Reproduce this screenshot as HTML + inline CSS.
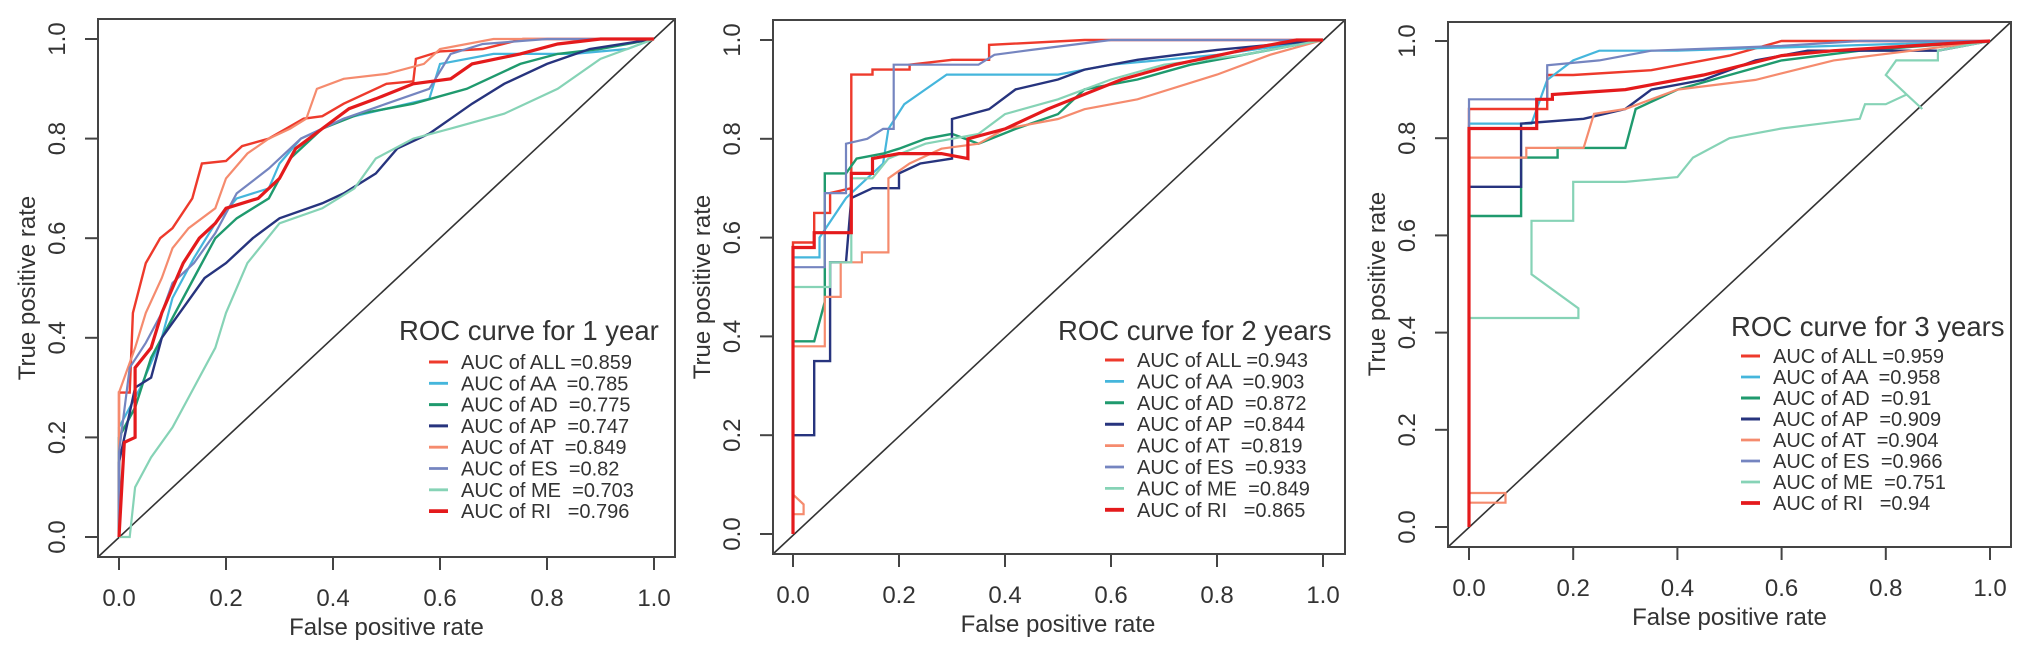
<!DOCTYPE html>
<html><head><meta charset="utf-8"><style>
html,body{margin:0;padding:0;background:#fff;}
svg{display:block;font-family:"Liberation Sans",Arial,sans-serif;}
</style></head><body>
<svg id="chart" width="2031" height="659" viewBox="0 0 2031 659" xmlns="http://www.w3.org/2000/svg"></svg>
<script>
const seriesNames = ["ALL","AA","AD","AP","AT","ES","ME","RI"];
const seriesColors = ["#ee3a2c","#45b6dc","#1f9a6e","#27347e","#f58b6e","#7585c0","#86d3b6","#e41a1c"];
const seriesWidths = [2.4,2.2,2.4,2.4,2.2,2.2,2.2,3.2];
const xTicks = [0,0.2,0.4,0.6,0.8,1.0];
const xTickLabels = ["0.0","0.2","0.4","0.6","0.8","1.0"];
const yTicks = [0,0.2,0.4,0.6,0.8,1.0];
const yTickLabels = ["0.0","0.2","0.4","0.6","0.8","1.0"];
const panelTitles = ["ROC curve for 1 year","ROC curve for 2 years","ROC curve for 3 years"];
const aucYear1 = ["0.859","0.785","0.775","0.747","0.849","0.82","0.703","0.796"];
const aucYear2 = ["0.943","0.903","0.872","0.844","0.819","0.933","0.849","0.865"];
const aucYear3 = ["0.959","0.958","0.91","0.909","0.904","0.966","0.751","0.94"];

// ROC vertices [fpr, tpr] per series, year 1
const y1ALL = [[0,0],[0,0.29],[0.02,0.29],[0.026,0.45],[0.05,0.55],[0.077,0.6],[0.1,0.62],[0.137,0.68],[0.155,0.75],[0.2,0.755],[0.23,0.785],[0.28,0.8],[0.345,0.84],[0.38,0.845],[0.42,0.87],[0.5,0.91],[0.55,0.915],[0.555,0.96],[0.6,0.975],[0.68,0.98],[0.755,1.0],[1,1]];
const y1AA = [[0,0],[0,0.22],[0.04,0.3],[0.08,0.4],[0.1,0.48],[0.14,0.56],[0.18,0.63],[0.22,0.68],[0.28,0.7],[0.3,0.75],[0.34,0.8],[0.42,0.84],[0.5,0.86],[0.58,0.88],[0.6,0.95],[0.7,0.97],[0.85,0.97],[0.95,0.98],[1,1]];
const y1AD = [[0,0],[0,0.2],[0.03,0.26],[0.06,0.36],[0.1,0.44],[0.14,0.52],[0.18,0.6],[0.22,0.64],[0.28,0.68],[0.32,0.76],[0.38,0.82],[0.45,0.85],[0.55,0.87],[0.65,0.9],[0.75,0.95],[0.82,0.97],[0.9,0.98],[1,1]];
const y1AP = [[0,0],[0,0.15],[0.03,0.3],[0.06,0.32],[0.08,0.4],[0.12,0.46],[0.16,0.52],[0.2,0.55],[0.25,0.6],[0.3,0.64],[0.38,0.67],[0.42,0.69],[0.48,0.73],[0.52,0.78],[0.58,0.81],[0.62,0.84],[0.66,0.87],[0.72,0.91],[0.8,0.95],[0.88,0.98],[1,1]];
const y1AT = [[0,0],[0,0.29],[0.03,0.38],[0.05,0.45],[0.08,0.52],[0.1,0.58],[0.13,0.62],[0.18,0.66],[0.2,0.72],[0.24,0.77],[0.28,0.8],[0.32,0.82],[0.35,0.84],[0.37,0.9],[0.42,0.92],[0.5,0.93],[0.57,0.95],[0.6,0.98],[0.7,1.0],[1,1]];
const y1ES = [[0,0],[0,0.17],[0.02,0.34],[0.05,0.39],[0.08,0.45],[0.1,0.51],[0.14,0.55],[0.18,0.61],[0.22,0.69],[0.28,0.74],[0.34,0.8],[0.42,0.84],[0.5,0.87],[0.58,0.9],[0.62,0.97],[0.68,0.99],[0.8,1.0],[1,1]];
const y1ME = [[0,0],[0.02,0],[0.03,0.1],[0.06,0.16],[0.1,0.22],[0.14,0.3],[0.18,0.38],[0.2,0.45],[0.24,0.55],[0.3,0.63],[0.38,0.66],[0.44,0.7],[0.48,0.76],[0.55,0.8],[0.62,0.82],[0.72,0.85],[0.82,0.9],[0.9,0.96],[0.95,0.98],[1,1]];
const y1RI = [[0,0],[0.01,0.19],[0.03,0.2],[0.03,0.34],[0.06,0.38],[0.08,0.45],[0.1,0.5],[0.12,0.55],[0.15,0.6],[0.18,0.63],[0.2,0.66],[0.26,0.68],[0.3,0.72],[0.33,0.78],[0.38,0.82],[0.43,0.86],[0.48,0.88],[0.55,0.91],[0.62,0.92],[0.66,0.95],[0.75,0.97],[0.82,0.99],[0.9,1.0],[1,1]];
// year 2
const y2ALL = [[0,0],[0,0.59],[0.04,0.59],[0.04,0.65],[0.07,0.65],[0.07,0.69],[0.11,0.7],[0.11,0.93],[0.15,0.93],[0.15,0.94],[0.22,0.94],[0.22,0.95],[0.3,0.96],[0.37,0.96],[0.37,0.99],[0.55,1.0],[1,1]];
const y2AA = [[0,0],[0,0.56],[0.05,0.56],[0.05,0.6],[0.1,0.68],[0.12,0.7],[0.17,0.75],[0.18,0.82],[0.21,0.87],[0.25,0.9],[0.29,0.93],[0.5,0.93],[0.6,0.95],[0.8,0.97],[1,1]];
const y2AD = [[0,0],[0,0.39],[0.04,0.39],[0.06,0.47],[0.06,0.73],[0.1,0.73],[0.12,0.76],[0.17,0.77],[0.2,0.78],[0.25,0.8],[0.3,0.81],[0.35,0.79],[0.42,0.82],[0.5,0.85],[0.55,0.9],[0.65,0.92],[0.75,0.95],[0.9,0.98],[1,1]];
const y2AP = [[0,0],[0,0.2],[0.04,0.2],[0.04,0.35],[0.07,0.35],[0.07,0.55],[0.1,0.55],[0.11,0.68],[0.15,0.7],[0.2,0.7],[0.2,0.73],[0.24,0.75],[0.3,0.76],[0.3,0.84],[0.37,0.86],[0.42,0.9],[0.5,0.92],[0.55,0.94],[0.65,0.96],[0.8,0.98],[1,1]];
const y2AT = [[0,0],[0,0.08],[0.02,0.06],[0.02,0.04],[0,0.04],[0,0.38],[0.06,0.38],[0.06,0.48],[0.09,0.48],[0.09,0.55],[0.13,0.55],[0.13,0.57],[0.18,0.57],[0.18,0.72],[0.22,0.75],[0.28,0.78],[0.35,0.79],[0.4,0.82],[0.5,0.84],[0.55,0.86],[0.65,0.88],[0.8,0.93],[0.9,0.97],[1,1]];
const y2ES = [[0,0],[0,0.54],[0.06,0.54],[0.06,0.69],[0.1,0.69],[0.1,0.79],[0.14,0.8],[0.17,0.82],[0.19,0.82],[0.19,0.95],[0.35,0.95],[0.38,0.97],[0.45,0.98],[0.6,1.0],[1,1]];
const y2ME = [[0,0],[0,0.5],[0.07,0.5],[0.07,0.55],[0.11,0.55],[0.11,0.72],[0.15,0.72],[0.18,0.76],[0.25,0.79],[0.3,0.8],[0.35,0.81],[0.4,0.85],[0.5,0.88],[0.6,0.92],[0.7,0.95],[0.85,0.97],[1,1]];
const y2RI = [[0,0],[0,0.58],[0.04,0.58],[0.04,0.61],[0.11,0.61],[0.11,0.73],[0.15,0.73],[0.15,0.76],[0.2,0.77],[0.28,0.77],[0.33,0.76],[0.33,0.8],[0.4,0.82],[0.48,0.86],[0.55,0.89],[0.62,0.92],[0.72,0.95],[0.85,0.98],[0.95,1.0],[1,1]];
// year 3
const y3ALL = [[0,0],[0,0.86],[0.15,0.86],[0.15,0.93],[0.2,0.93],[0.35,0.94],[0.5,0.97],[0.6,1.0],[1,1]];
const y3AA = [[0,0],[0,0.83],[0.12,0.83],[0.13,0.86],[0.15,0.92],[0.2,0.96],[0.25,0.98],[0.4,0.98],[0.7,0.99],[1,1]];
const y3AD = [[0,0],[0,0.64],[0.1,0.64],[0.1,0.76],[0.17,0.76],[0.17,0.78],[0.3,0.78],[0.32,0.86],[0.4,0.9],[0.5,0.93],[0.6,0.96],[0.75,0.98],[1,1]];
const y3AP = [[0,0],[0,0.7],[0.1,0.7],[0.1,0.83],[0.22,0.84],[0.3,0.86],[0.35,0.9],[0.45,0.92],[0.55,0.96],[0.65,0.98],[0.9,0.98],[1,1]];
const y3AT = [[0,0],[0,0.05],[0.07,0.05],[0.07,0.07],[0,0.07],[0,0.76],[0.11,0.76],[0.11,0.78],[0.22,0.78],[0.24,0.85],[0.3,0.86],[0.4,0.9],[0.55,0.92],[0.7,0.96],[0.85,0.98],[1,1]];
const y3ES = [[0,0],[0,0.88],[0.15,0.88],[0.15,0.95],[0.25,0.96],[0.35,0.98],[0.6,0.99],[0.75,1.0],[1,1]];
const y3ME = [[0,0],[0,0.43],[0.21,0.43],[0.21,0.45],[0.12,0.52],[0.12,0.63],[0.2,0.63],[0.2,0.71],[0.3,0.71],[0.4,0.72],[0.43,0.76],[0.5,0.8],[0.6,0.82],[0.75,0.84],[0.76,0.87],[0.8,0.87],[0.84,0.89],[0.87,0.86],[0.83,0.9],[0.8,0.93],[0.82,0.96],[0.9,0.96],[0.9,0.98],[1,1]];
const y3RI = [[0,0],[0,0.82],[0.13,0.82],[0.13,0.88],[0.16,0.88],[0.16,0.89],[0.3,0.9],[0.45,0.93],[0.6,0.97],[0.7,0.98],[1,1]];

const panelSeries = [
  [y1ALL,y1AA,y1AD,y1AP,y1AT,y1ES,y1ME,y1RI],
  [y2ALL,y2AA,y2AD,y2AP,y2AT,y2ES,y2ME,y2RI],
  [y3ALL,y3AA,y3AD,y3AP,y3AT,y3ES,y3ME,y3RI]
];
const panelAucs = [aucYear1, aucYear2, aucYear3];

const panels = [
  {x0:119,x1:654,y0:537,y1:39, bx0:98,bx1:675,by0:19,by1:557, leg:{tx:399,ty:340,lx:429,ly:362,dy:21.3}},
  {x0:793,x1:1323,y0:534,y1:40, bx0:773,bx1:1345,by0:20,by1:554, leg:{tx:1058,ty:340,lx:1105,ly:360,dy:21.4}},
  {x0:1469,x1:1990,y0:527,y1:41, bx0:1448,bx1:2011,by0:22,by1:547, leg:{tx:1731,ty:336,lx:1741,ly:356,dy:21}}
];

const NS="http://www.w3.org/2000/svg";
const svg=document.getElementById('chart');
function mk(tag,attrs,parent){const e=document.createElementNS(NS,tag);for(const k in attrs)e.setAttribute(k,attrs[k]);(parent||svg).appendChild(e);return e;}

panels.forEach((p,pi)=>{
  const g=mk('g',{});
  
  
  const sx=v=>p.x0+(p.x1-p.x0)*v;
  const sy=v=>p.y0+(p.y1-p.y0)*v;
  const diag=mk('line',{x1:p.bx0,y1:p.by1,x2:p.bx1,y2:p.by0,stroke:'#333','stroke-width':1.6},g);
  
  
  panelSeries[pi].forEach((pts,si)=>{
    const d=pts.map((q,i)=>(i?'L':'M')+sx(q[0]).toFixed(1)+','+sy(q[1]).toFixed(1)).join(' ');
    const path=mk('path',{d:d,fill:'none',stroke:seriesColors[si],'stroke-width':seriesWidths[si],'stroke-linejoin':'miter'},g);
    
    
  });
  const box=mk('rect',{x:p.bx0,y:p.by0,width:p.bx1-p.bx0,height:p.by1-p.by0,fill:'none',stroke:'#444','stroke-width':2},g);
  
  
  xTicks.forEach((t,i)=>{
    const x=sx(t);
    const tk=mk('line',{x1:x,y1:p.by1,x2:x,y2:p.by1+13,stroke:'#444','stroke-width':2},g);
    
    
    const tl=mk('text',{x:x,y:p.by1+49,'text-anchor':'middle','font-size':24,fill:'#333'},g);
    tl.textContent=xTickLabels[i];
    
    
  });
  yTicks.forEach((t,i)=>{
    const y=sy(t);
    const tk=mk('line',{x1:p.bx0-13,y1:y,x2:p.bx0,y2:y,stroke:'#444','stroke-width':2},g);
    
    
    const lx=p.bx0-33;
    const tl=mk('text',{x:lx,y:y,'text-anchor':'middle','font-size':24,fill:'#333',transform:'rotate(-90 '+lx+' '+y+')'},g);
    tl.textContent=yTickLabels[i];
    
    
  });
  const xt=mk('text',{x:(p.x0+p.x1)/2,y:p.by1+78,'text-anchor':'middle','font-size':24,fill:'#333'},g);
  xt.textContent='False positive rate';
  
  
  const ax=p.bx0-63, ay=(p.y0+p.y1)/2;
  const yt=mk('text',{x:ax,y:ay,'text-anchor':'middle','font-size':24,fill:'#333',transform:'rotate(-90 '+ax+' '+ay+')'},g);
  yt.textContent='True positive rate';
  
  
  const L=p.leg;
  const lg=mk('g',{},g);
  
  
  const tt=mk('text',{x:L.tx,y:L.ty,'font-size':27.5,fill:'#333'},lg);
  tt.textContent=panelTitles[pi];
  
  
  seriesNames.forEach((n,si)=>{
    const y=L.ly+si*L.dy;
    const ln=mk('line',{x1:L.lx,y1:y,x2:L.lx+19,y2:y,stroke:seriesColors[si],'stroke-width':seriesWidths[si]+0.6},lg);
    
    
    const tx=mk('text',{x:L.lx+32,y:y+7,'font-size':20,fill:'#333'},lg);
    const pad = n.length===3 ? ' ' : (n==='RI'?'   ':'  ');
    tx.textContent='AUC of '+n+pad+'=' + panelAucs[pi][si];
    tx.style.whiteSpace='pre';
    
    
  });
});
</script>
</body></html>
